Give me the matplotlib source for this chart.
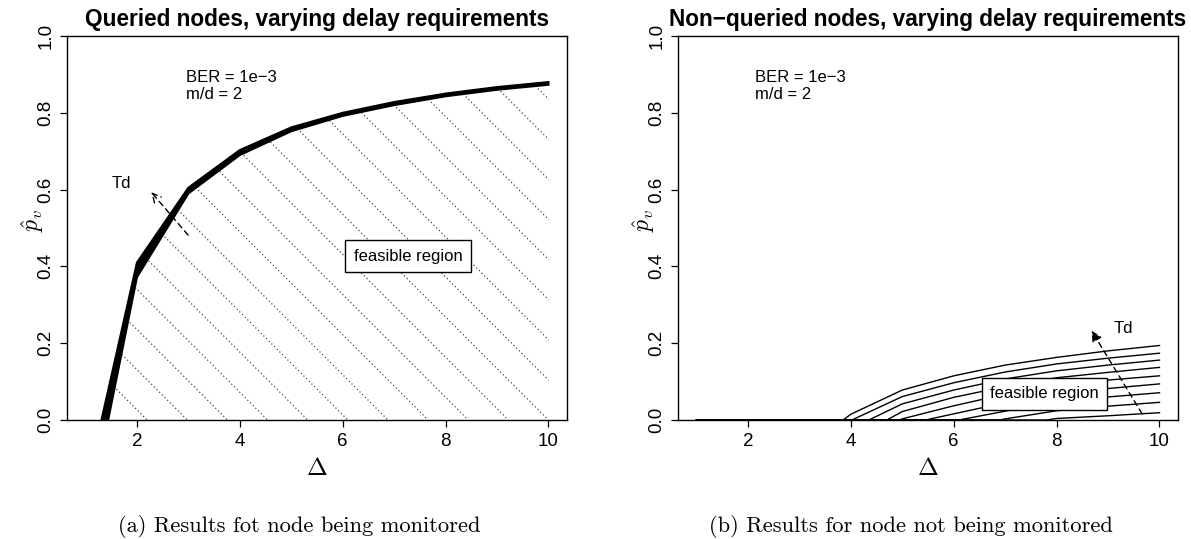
import numpy as np
import matplotlib
matplotlib.use('Agg')
import matplotlib.pyplot as plt
from matplotlib.patches import Polygon

plt.rcParams['font.family'] = ['Liberation Sans', 'DejaVu Sans']
plt.rcParams['mathtext.fontset'] = 'cm'

# queried nodes: thick band (upper / lower edge of the curve family)
q_x = [2, 3, 4, 5, 6, 7, 8, 9, 10]
q_top = [0.41, 0.605, 0.703, 0.762, 0.80, 0.828, 0.85, 0.867, 0.88]
q_bot = [0.372, 0.59, 0.69, 0.752, 0.792, 0.82, 0.843, 0.86, 0.873]
q_zero_top = 1.31
q_zero_bot = 1.44

# non-queried nodes: one curve per delay requirement
nq_x = [4, 5, 6, 7, 8, 9, 10]
nq_start = [3.85, 4.02, 4.35, 4.7, 4.95, 5.45, 6.1, 6.9, 7.8]
nq_curves = [
    [0.015, 0.078, 0.115, 0.143, 0.163, 0.180, 0.194],
    [0.0, 0.061, 0.097, 0.125, 0.146, 0.161, 0.174],
    [0.0, 0.042, 0.078, 0.107, 0.128, 0.143, 0.156],
    [0.0, 0.022, 0.059, 0.087, 0.110, 0.124, 0.137],
    [0.0, 0.003, 0.037, 0.067, 0.091, 0.104, 0.115],
    [0.0, 0.0, 0.016, 0.045, 0.069, 0.082, 0.094],
    [0.0, 0.0, 0.0, 0.023, 0.048, 0.060, 0.071],
    [0.0, 0.0, 0.0, 0.003, 0.024, 0.036, 0.046],
    [0.0, 0.0, 0.0, 0.0, 0.004, 0.011, 0.019],
]

xticks = [2, 4, 6, 8, 10]
yticks = [0.0, 0.2, 0.4, 0.6, 0.8, 1.0]
titles = ['Queried nodes, varying delay requirements',
          'Non\u2212queried nodes, varying delay requirements']
captions = ['(a) Results fot node being monitored',
            '(b) Results for node not being monitored']

W, H = 1191, 539
fig = plt.figure(figsize=(W / 100, H / 100), dpi=100)
ax1 = fig.add_axes([67 / W, 1 - 420 / H, 500 / W, 384 / H])
ax2 = fig.add_axes([678 / W, 1 - 420 / H, 500 / W, 384 / H])
xlim = (0.64, 10.36)

for ax, title in zip([ax1, ax2], titles):
    ax.set_xlim(*xlim)
    ax.set_ylim(0, 1)
    ax.set_xticks(xticks)
    ax.set_xticklabels([str(t) for t in xticks])
    ax.set_yticks(yticks)
    ax.set_yticklabels(['%.1f' % t for t in yticks], rotation=90, va='center')
    ax.tick_params(axis='both', length=5, width=0.9, labelsize=13.5)
    ax.tick_params(axis='x', pad=4)
    ax.tick_params(axis='y', pad=4)
    for s in ax.spines.values():
        s.set_linewidth(1.0)
    ax.set_title(title, fontsize=16.3, fontweight='bold', pad=7)
    ax.text(0.5, -0.125, r'$\Delta$', transform=ax.transAxes, ha='center',
            va='center', fontsize=18)
    ax.text(-0.069, 0.52, r'$\hat{p}_v$', transform=ax.transAxes, ha='center',
            va='center', rotation=90, fontsize=17)

# ---- left panel
bx = [q_zero_bot] + q_x
by = [0.0] + q_bot
tx = [q_zero_top] + q_x
ty = [0.0] + q_top
band = np.array(list(zip(tx, ty)) + list(zip(bx[::-1], by[::-1])))
ax1.fill(band[:, 0], band[:, 1], color='black', lw=1.5, ec='black')

# hatching of the feasible region (45 degree dotted lines)
region = Polygon(list(zip(bx, by)) + [(10, 0)], closed=True,
                 transform=ax1.transData, fc='none', ec='none')
ax1.add_patch(region)
slope = (500 / (xlim[1] - xlim[0])) / 384
for x0 in np.arange(2.2 - 0.78 * 2, 18, 0.78):
    xs = np.array([x0 - 8, x0])
    ln, = ax1.plot(xs, slope * (x0 - xs), color='0.1', lw=0.8,
                   ls=(0, (1, 2.4)))
    ln.set_clip_path(region)

ax1.annotate('', xy=(2.24, 0.599), xytext=(3.03, 0.476),
             arrowprops=dict(arrowstyle='->', lw=1.0, ls=(0, (4, 3)),
                             color='black', mutation_scale=16))
ax1.text(1.70, 0.616, 'Td', fontsize=12, ha='center', va='center')
ax1.text(2.95, 0.869, 'BER = 1e\u22123\nm/d = 2', fontsize=12, ha='left',
         va='center', linespacing=1.15)
ax1.text(7.27, 0.427, 'feasible region', fontsize=12, ha='center', va='center',
         bbox=dict(boxstyle='square,pad=0.5', fc='white', ec='black', lw=1.0))

# ---- right panel
for st, vals in zip(nq_start, nq_curves):
    xs = [1, st] + [x for x in nq_x if x > st]
    ys = [0, 0] + [v for x, v in zip(nq_x, vals) if x > st]
    ax2.plot(xs, ys, color='black', lw=1.0)

ax2.annotate('', xy=(8.65, 0.239), xytext=(9.69, 0.01),
             arrowprops=dict(arrowstyle='-|>', lw=1.0, ls=(0, (4, 3)),
                             color='black', mutation_scale=16))
ax2.text(9.30, 0.239, 'Td', fontsize=12, ha='center', va='center')
ax2.text(2.13, 0.869, 'BER = 1e\u22123\nm/d = 2', fontsize=12, ha='left',
         va='center', linespacing=1.15)
ax2.text(7.76, 0.068, 'feasible region', fontsize=12, ha='center', va='center',
         bbox=dict(boxstyle='square,pad=0.5', fc='white', ec='black', lw=1.0))

fig.text(299 / W, 1 - 527 / H, captions[0], family='cmr10', fontsize=16.2,
         ha='center', va='center')
fig.text(911 / W, 1 - 527 / H, captions[1], family='cmr10', fontsize=16.2,
         ha='center', va='center')

fig.savefig('out.png', dpi=100)
